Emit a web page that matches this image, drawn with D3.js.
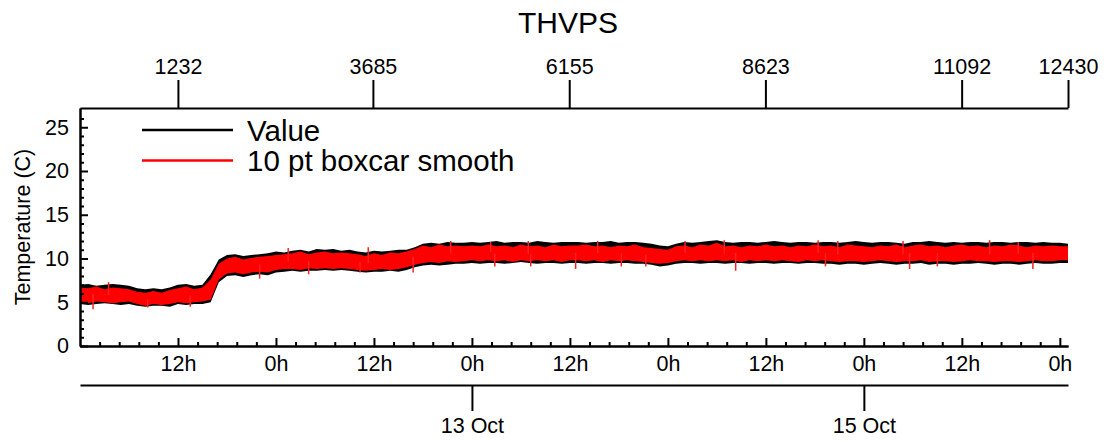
<!DOCTYPE html>
<html>
<head>
<meta charset="utf-8">
<script src="https://cdn.jsdelivr.net/npm/d3@7"></script>
<style>
  body { margin: 0; background: #fff; }
  text { font-family: "Liberation Sans", Arial, Helvetica, sans-serif; fill: #000; }
</style>
</head>
<body>
<script>
// hourly envelope of the THVPS record, starting 11 Oct 0h (UTC)
const startTime = Date.UTC(2013, 9, 11, 0, 0);
const spanHours = 121;

// black "Value" series: hourly max / min
const valueHi = [
  7.0, 7.1, 6.9, 7.0, 7.1, 7.0, 6.9, 6.6, 6.5, 6.6,
  6.5, 6.7, 7.0, 7.1, 6.9, 7.0, 8.2, 9.9, 10.4, 10.5,
  10.3, 10.4, 10.5, 10.6, 10.8, 10.7, 10.9, 11.0, 10.8, 11.1,
  11.0, 11.1, 10.9, 11.0, 10.8, 10.7, 10.9, 10.8, 10.9, 11.0,
  11.0, 11.3, 11.7, 11.8, 11.7, 11.9, 11.8, 11.8, 11.9, 11.8,
  11.9, 12.0, 11.8, 11.9, 11.9, 11.8, 12.0, 11.9, 11.8, 11.9,
  11.9, 11.9, 11.8, 11.9, 11.9, 12.0, 11.8, 11.9, 11.9, 11.8,
  11.7, 11.5, 11.4, 11.7, 11.9, 11.8, 11.9, 12.0, 12.1, 11.9,
  11.8, 11.9, 11.9, 11.8, 11.9, 12.0, 11.9, 11.8, 11.9, 11.9,
  11.8, 11.9, 11.9, 11.8, 11.9, 12.0, 11.9, 11.8, 11.9, 11.9,
  11.8, 11.7, 11.9, 11.9, 12.0, 11.9, 11.8, 11.9, 11.8, 11.9,
  11.9, 11.8, 11.9, 11.9, 11.8, 11.9, 11.9, 11.8, 11.9, 11.8,
  11.8, 11.7
];
const valueLo = [
  4.8, 4.7, 4.8, 4.9, 4.8, 4.7, 4.8, 4.6, 4.5, 4.6,
  4.6, 4.5, 4.8, 4.7, 4.8, 4.8, 5.0, 7.3, 8.0, 8.1,
  7.9, 8.1, 8.2, 8.1, 8.4, 8.5, 8.6, 8.5, 8.6, 8.6,
  8.7, 8.6, 8.7, 8.6, 8.5, 8.4, 8.5, 8.5, 8.6, 8.5,
  8.7, 9.0, 9.2, 9.3, 9.2, 9.3, 9.4, 9.4, 9.5, 9.4,
  9.5, 9.5, 9.4, 9.5, 9.6, 9.5, 9.4, 9.5, 9.5, 9.4,
  9.5, 9.5, 9.4, 9.5, 9.5, 9.4, 9.5, 9.5, 9.4, 9.4,
  9.3, 9.1, 9.2, 9.4, 9.5, 9.5, 9.4, 9.5, 9.5, 9.4,
  9.5, 9.5, 9.4, 9.5, 9.5, 9.4, 9.5, 9.5, 9.4, 9.5,
  9.5, 9.4, 9.4, 9.3, 9.4, 9.4, 9.3, 9.4, 9.5, 9.4,
  9.3, 9.4, 9.4, 9.5, 9.3, 9.4, 9.4, 9.3, 9.4, 9.4,
  9.5, 9.4, 9.3, 9.4, 9.4, 9.3, 9.4, 9.5, 9.4, 9.4,
  9.5, 9.5
];
// red "10 pt boxcar smooth" series: hourly max / min
const smoothHi = [
  6.7, 6.6, 6.8, 6.5, 6.7, 6.6, 6.5, 6.2, 6.1, 6.3,
  6.1, 6.4, 6.6, 6.8, 6.5, 6.7, 7.6, 9.4, 10.0, 10.2,
  9.9, 10.1, 10.2, 10.3, 10.4, 10.5, 10.6, 10.8, 10.5, 10.7,
  10.8, 10.6, 10.7, 10.6, 10.5, 10.3, 10.6, 10.4, 10.7, 10.6,
  10.8, 11.1, 11.5, 11.3, 11.6, 11.4, 11.5, 11.4, 11.5, 11.4,
  11.6, 11.4, 11.5, 11.3, 11.6, 11.4, 11.5, 11.3, 11.6, 11.4,
  11.5, 11.5, 11.6, 11.4, 11.5, 11.3, 11.5, 11.4, 11.6, 11.3,
  11.2, 11.1, 11.0, 11.4, 11.5, 11.3, 11.6, 11.5, 11.8, 11.4,
  11.5, 11.3, 11.5, 11.4, 11.6, 11.4, 11.5, 11.3, 11.5, 11.4,
  11.6, 11.4, 11.5, 11.3, 11.6, 11.5, 11.4, 11.3, 11.5, 11.4,
  11.6, 11.3, 11.5, 11.6, 11.4, 11.5, 11.3, 11.5, 11.6, 11.4,
  11.5, 11.3, 11.5, 11.4, 11.6, 11.5, 11.3, 11.5, 11.4, 11.5,
  11.4, 11.4
];
const smoothLo = [
  5.0, 4.9, 5.1, 5.0, 4.9, 5.0, 5.1, 4.8, 4.6, 4.8,
  4.7, 4.8, 5.0, 4.9, 5.0, 5.1, 5.3, 7.6, 8.3, 8.4,
  8.2, 8.4, 8.5, 8.4, 8.7, 8.8, 8.8, 8.7, 8.9, 8.8,
  8.9, 8.8, 8.9, 8.8, 8.7, 8.6, 8.7, 8.8, 8.7, 8.8,
  9.0, 9.3, 9.5, 9.6, 9.5, 9.7, 9.6, 9.7, 9.8, 9.7,
  9.8, 9.7, 9.8, 9.6, 9.8, 9.7, 9.8, 9.7, 9.8, 9.6,
  9.8, 9.8, 9.7, 9.8, 9.6, 9.8, 9.7, 9.8, 9.7, 9.6,
  9.5, 9.4, 9.5, 9.7, 9.8, 9.7, 9.8, 9.7, 9.8, 9.7,
  9.8, 9.6, 9.8, 9.7, 9.8, 9.7, 9.8, 9.7, 9.6, 9.8,
  9.7, 9.8, 9.7, 9.6, 9.7, 9.7, 9.6, 9.7, 9.8, 9.7,
  9.6, 9.7, 9.7, 9.8, 9.6, 9.7, 9.7, 9.6, 9.7, 9.8,
  9.7, 9.7, 9.6, 9.7, 9.7, 9.6, 9.7, 9.8, 9.7, 9.7,
  9.8, 9.8
];
// isolated excursions of the smoothed series (hour, temperature)
const spikeHours = [1.6, 3.5, 8.3, 13.5, 22, 25.5, 28, 34.3, 35.3, 40.8, 45.4, 50.3, 50.8,
  54.9, 55.2, 60.7, 63.4, 66.3, 69.3, 74.1, 78.9, 80.3, 90.4, 91.3, 92.8, 100.8, 101.6,
  105, 111.4, 114.9, 116.7];
const spikeTemps = [4.2, 7.3, 4.4, 4.5, 7.7, 11.2, 8.2, 8.4, 11.3, 8.4, 12.0, 11.9, 9.1,
  12.0, 9.1, 8.8, 12.0, 9.1, 9.1, 12.0, 12.1, 8.6, 12.1, 9.1, 12.0, 12.0, 8.8,
  9.1, 12.1, 11.9, 8.8];

// tick labels
const yMajor = [0, 5, 10, 15, 20, 25];
const indexTicks = [1232, 3685, 6155, 8623, 11092, 12430];
const dateTicks = [Date.UTC(2013, 9, 13), Date.UTC(2013, 9, 15)];
const legendLabels = ["Value", "10 pt boxcar smooth"];
const legendColors = ["#000", "#ff0000"];

const W = 1107, H = 442;
const svg = d3.select("body").append("svg").attr("width", W).attr("height", H);

const endTime = startTime + spanHours * 3600e3;
const x = d3.scaleUtc().domain([new Date(startTime), new Date(endTime)]).range([80, 1068]);
const xi = d3.scaleLinear().domain([0, 12430]).range([80, 1068]);
const y = d3.scaleLinear().domain([0, 27.2]).range([346, 108]);
const hourDate = h => new Date(startTime + h * 3600e3);

const rows = valueHi.map((v, i) => ({
  t: hourDate(i), vh: v, vl: valueLo[i], sh: smoothHi[i], sl: smoothLo[i]
}));

// bands
svg.append("path").datum(rows)
  .attr("fill", "#000")
  .attr("d", d3.area().x(d => x(d.t)).y0(d => y(d.vl)).y1(d => y(d.vh)));
svg.append("path").datum(rows)
  .attr("fill", "#ff0000")
  .attr("d", d3.area().x(d => x(d.t)).y0(d => y(d.sl)).y1(d => y(d.sh)));

// spikes, drawn from the middle of the smoothed band
svg.append("g").selectAll("line").data(spikeHours).join("line")
  .attr("x1", h => x(hourDate(h))).attr("x2", h => x(hourDate(h)))
  .attr("y1", h => { const r = rows[Math.round(h)]; return y((r.sh + r.sl) / 2); })
  .attr("y2", (h, i) => y(spikeTemps[i]))
  .attr("stroke", "#ff2020").attr("stroke-width", 1.5);

function styleAxis(g, fs) {
  g.select(".domain").attr("stroke", "#000").attr("stroke-width", 2);
  g.selectAll(".tick line").attr("stroke", "#000").attr("stroke-width", 2);
  g.selectAll(".tick text").attr("font-size", fs).attr("font-family", "Liberation Sans, Arial, sans-serif").attr("fill", "#000");
}

// bottom time axis (hours)
const majorHours = d3.utcHour.every(12).range(new Date(startTime + 1), new Date(endTime + 1));
const minorHours = d3.range(1, 51).filter(k => k % 5).map(k => hourDate(k * 2.4));

svg.append("g").attr("transform", "translate(0,346)")
  .call(d3.axisBottom(x).tickValues(minorHours).tickSizeInner(-4).tickSizeOuter(0).tickFormat(""))
  .call(g => styleAxis(g, 21.5));
svg.append("g").attr("transform", "translate(0,346)")
  .call(d3.axisBottom(x).tickValues(majorHours).tickFormat(d3.utcFormat("%-Hh"))
    .tickSizeInner(-8).tickSizeOuter(0).tickPadding(10))
  .call(g => styleAxis(g, 21.5));

// date axis
svg.append("g").attr("transform", "translate(0,385)")
  .call(d3.axisBottom(x).tickValues(dateTicks.map(d => new Date(d))).tickFormat(d3.utcFormat("%-d %b"))
    .tickSizeInner(26).tickSizeOuter(0).tickPadding(7))
  .call(g => styleAxis(g, 21.5));

// left axis
svg.append("g").attr("transform", "translate(80,0)")
  .call(d3.axisLeft(y).tickValues(d3.range(1, 27).filter(v => v % 5)).tickSizeInner(-4).tickSizeOuter(0).tickFormat(""))
  .call(g => styleAxis(g, 21.5));
svg.append("g").attr("transform", "translate(80,0)")
  .call(d3.axisLeft(y).tickValues(yMajor).tickSizeInner(-8).tickSizeOuter(0).tickPadding(11))
  .call(g => styleAxis(g, 21.5));

// top index axis
svg.append("g").attr("transform", "translate(0,108)")
  .call(d3.axisTop(xi).tickValues(indexTicks).tickFormat(d3.format("d"))
    .tickSizeInner(28).tickSizeOuter(0).tickPadding(6))
  .call(g => styleAxis(g, 21.5));

// title and y label
svg.append("text").attr("x", 568).attr("y", 33).attr("text-anchor", "middle")
  .attr("font-size", 30).text("THVPS");
svg.append("text").attr("transform", "translate(29.5,227) rotate(-90)")
  .attr("text-anchor", "middle").attr("font-size", 21.5).text("Temperature (C)");

// legend
const leg = svg.append("g");
legendLabels.forEach((lab, i) => {
  const ly = 130 + i * 30.5;
  leg.append("line").attr("x1", 142).attr("x2", 233).attr("y1", ly).attr("y2", ly)
    .attr("stroke", legendColors[i]).attr("stroke-width", 2.5);
  leg.append("text").attr("x", 247).attr("y", ly + 10.5).attr("font-size", 29.5).text(lab);
});
</script>
</body>
</html>
